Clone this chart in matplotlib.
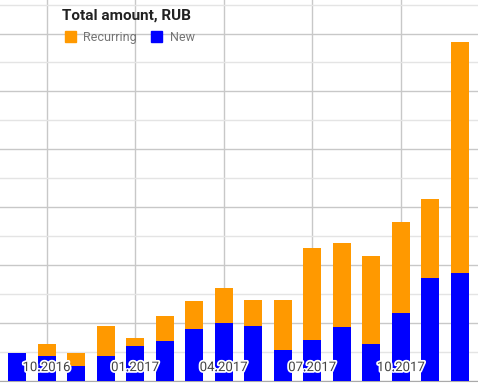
import matplotlib
matplotlib.use('Agg')
import matplotlib.pyplot as plt
import matplotlib.patheffects as pe
import numpy as np
from matplotlib.ticker import MultipleLocator

plt.rcParams['font.family'] = ['Roboto', 'DejaVu Sans']

# monthly values (thousand RUB)
months = ['09.2016', '10.2016', '11.2016', '12.2016', '01.2017', '02.2017', '03.2017', '04.2017',
          '05.2017', '06.2017', '07.2017', '08.2017', '09.2017', '10.2017', '11.2017', '12.2017']
new = [9.4, 8.5, 5.0, 8.5, 11.9, 13.7, 17.8, 19.9, 18.8, 10.5, 14.0, 18.5, 12.6, 23.3, 35.4, 37.2]
recurring = [0.0, 4.1, 4.5, 10.4, 2.8, 8.6, 9.7, 12.1, 9.0, 17.3, 31.8, 29.0, 30.4, 31.5, 27.3, 79.9]
tick_months = ['10.2016', '01.2017', '04.2017', '07.2017', '10.2017']

fig = plt.figure(figsize=(4.78, 3.87), dpi=100)
ax = fig.add_axes([0, 6.5 / 387, 1, 1 - 6.5 / 387])

x = np.arange(len(months))
ax.bar(x, new, width=0.61, color='#0000ff', zorder=3)
ax.bar(x, recurring, bottom=new, width=0.61, color='#ff9900', zorder=3)

ax.set_xlim(-0.576, 15.61)
ax.set_ylim(0, 131.6)

# gridlines: major every 20, minor every 10
ax.yaxis.set_major_locator(MultipleLocator(20))
ax.yaxis.set_minor_locator(MultipleLocator(10))
ax.grid(axis='y', which='major', color='#c8c8c8', linewidth=1)
ax.grid(axis='y', which='minor', color='#e4e4e4', linewidth=1)

ticks = [months.index(m) for m in tick_months]
ax.set_xticks(ticks)
ax.grid(axis='x', color='#c8c8c8', linewidth=1)
ax.set_axisbelow(True)
ax.tick_params(axis='x', length=0, labelbottom=False)
ax.tick_params(axis='y', which='both', length=0, labelleft=False)

# month labels sit inside the plot, over the bars
for t, m in zip(ticks, tick_months):
    ax.text(t, 0.034, m, transform=ax.get_xaxis_transform(), ha='center', va='center',
            fontsize=9.5, color='#444444', zorder=5,
            path_effects=[pe.withStroke(linewidth=2.5, foreground='white')])

for s in ['top', 'right', 'left']:
    ax.spines[s].set_visible(False)
ax.spines['bottom'].set_color('#aaaaaa')

fig.text(62 / 478, 1 - 16 / 387, 'Total amount, RUB', fontsize=11, fontweight='bold',
         color='#222222', va='center', ha='left')
h1 = plt.Rectangle((0, 0), 1, 1, color='#ff9900')
h2 = plt.Rectangle((0, 0), 1, 1, color='#0000ff')
fig.legend([h1, h2], ['Recurring', 'New'], loc='upper left', bbox_to_anchor=(56 / 478, 1 - 22 / 387),
           ncol=2, frameon=False, fontsize=9, labelcolor='#757575', handlelength=0.9,
           handleheight=0.9, handletextpad=0.6, columnspacing=1.1, borderpad=0.2)

fig.savefig('out.png', dpi=100)
